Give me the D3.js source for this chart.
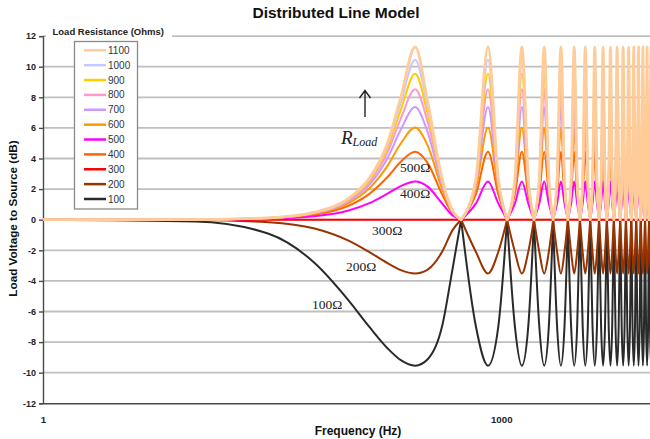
<!DOCTYPE html>
<html>
<head>
<meta charset="utf-8">
<script src="https://cdn.jsdelivr.net/npm/d3@7"></script>
<style>
  body { margin: 0; background: #fff; }
  svg { display: block; font-family: Arial, "Liberation Sans", sans-serif; }
</style>
</head>
<body>
<svg width="650" height="439"></svg>
<script>
// series names, legend order (top -> bottom)
var loads = ['1100', '1000', '900', '800', '700', '600', '500', '400', '300', '200', '100'];
var lineColors = ['#FFCC99', '#C8C8FF', '#FFCC00', '#FF99CC', '#CC99FF', '#FF9900', '#FF00FF', '#FF6600', '#FF0000', '#993300', '#2a2a2a'];

// frequencies (Hz) read along the first hump, up to the first null
var firstHz = [1, 10, 30, 60, 100, 137, 180, 220, 273, 330, 410, 480, 546];

// dB read at firstHz, one row per series (same order as loads)
var firstDb = [
  [0, 0.01, 0.12, 0.49, 1.39, 2.72, 5.02, 8.01, 11.3, 7.69, 2.67, 0.59, 0],
  [0, 0.01, 0.12, 0.48, 1.36, 2.66, 4.86, 7.64, 10.46, 7.34, 2.61, 0.58, 0],
  [0, 0.01, 0.11, 0.47, 1.33, 2.57, 4.66, 7.18, 9.54, 6.92, 2.53, 0.56, 0],
  [0, 0.01, 0.11, 0.45, 1.28, 2.46, 4.39, 6.61, 8.52, 6.39, 2.42, 0.54, 0],
  [0, 0.01, 0.11, 0.43, 1.2, 2.29, 4.02, 5.89, 7.36, 5.71, 2.26, 0.51, 0],
  [0, 0.01, 0.1, 0.39, 1.09, 2.06, 3.52, 4.98, 6.02, 4.84, 2.02, 0.47, 0],
  [0, 0.01, 0.06, 0.22, 0.6, 1.08, 1.7, 2.2, 2.5, 2.16, 1.06, 0.27, 0],
  [0, 0.01, 0.08, 0.33, 0.91, 1.69, 2.79, 3.79, 4.44, 3.7, 1.66, 0.4, 0],
  [0, 0, 0, 0, 0, 0, 0, 0, 0, 0, 0, 0, 0],
  [0, -0.02, -0.16, -0.58, -1.37, -2.12, -2.84, -3.3, -3.52, -3.26, -2.1, -0.68, 0],
  [0, -0.11, -0.92, -2.83, -5.27, -7.01, -8.4, -9.18, -9.54, -9.12, -6.97, -3.21, 0]
];

// after the first null: null, shoulder, peak, shoulder, null, ... (Hz)
var rippleHz = [546, 683, 819, 956, 1092, 1229, 1365, 1502, 1638, 1775, 1911, 2048,
  2184, 2321, 2457, 2594, 2730, 2867, 3003, 3140, 3276, 3413, 3549, 3686,
  3822, 3959, 4095, 4232, 4368, 4505, 4641, 4778, 4914, 5051, 5187, 5324,
  5460, 5597, 5733, 5870, 6006, 6143, 6279, 6416, 6552, 6689, 6825, 6962,
  7098, 7235, 7371, 7508, 7644, 7781, 7917, 8054, 8190, 8327, 8463, 8600,
  8736, 8873, 9009, 9146, 9282, 9419, 9555, 9692, 9828, 9965, 10101, 10238, 10374];

// level of each series at the shoulders and at the peaks/dips of the ripples (dB)
var shoulderDb = [2.7, 2.64, 2.55, 2.44, 2.28, 2.04, 1.07, 1.67, 0, -2.11, -7.0];
var peakDb = [11.3, 10.46, 9.54, 8.52, 7.36, 6.02, 2.5, 4.44, 0, -3.52, -9.54];

var yTicks = [12, 10, 8, 6, 4, 2, 0, -2, -4, -6, -8, -10, -12];
var xTicks = [1, 1000];

// curve labels drawn on the plot
var curveLabels = ['500\u03A9', '400\u03A9', '300\u03A9', '200\u03A9', '100\u03A9'];
var labelAt = [[400, 171.5], [400, 198], [372, 235], [346, 270.5], [312, 308.5]];

var svg = d3.select('svg'),
    w = +svg.attr('width'),
    h = +svg.attr('height');

var x = d3.scaleLog().domain([1, 10000]).range([43, 654]),
    y = d3.scaleLinear().domain([-12, 12]).range([403.3, 36.1]);

svg.append('defs').append('clipPath').attr('id', 'plot')
  .append('rect').attr('x', 43).attr('y', 0).attr('width', 620).attr('height', h);

// gridlines
svg.append('g').selectAll('line')
  .data(yTicks.filter(function(d){ return d > -12; }))
  .enter().append('line')
  .attr('x1', x(1)).attr('x2', w)
  .attr('y1', function(d){ return y(d); })
  .attr('y2', function(d){ return y(d); })
  .attr('stroke', '#bfbfbf')
  .attr('stroke-width', 1.8);

// axes
var yAxis = svg.append('g')
  .attr('transform', 'translate(' + x(1) + ',0)')
  .call(d3.axisLeft(y).tickValues(yTicks).tickSize(4).tickPadding(3)
    .tickFormat(function(d){ return String(d); }));
yAxis.selectAll('path, line').attr('stroke', '#4a4a4a').attr('stroke-width', 1.4);
yAxis.selectAll('text').attr('font-size', 9).attr('font-weight', 'bold')
  .attr('font-family', 'Arial, "Liberation Sans", sans-serif').attr('fill', '#222');

var xAxis = svg.append('g')
  .attr('transform', 'translate(0,' + y(-12) + ')')
  .call(d3.axisBottom(x).tickValues(xTicks).tickSize(0).tickPadding(13)
    .tickFormat(d3.format('d')));
xAxis.select('path').attr('stroke', '#4a4a4a').attr('stroke-width', 1.4);
xAxis.selectAll('text').attr('font-size', 9.7).attr('font-weight', 'bold')
  .attr('font-family', 'Arial, "Liberation Sans", sans-serif').attr('fill', '#222');

// curves
var line = d3.line()
  .x(function(d){ return x(d[0]); })
  .y(function(d){ return y(d[1]); })
  .curve(d3.curveMonotoneX);

function seriesPath(i) {
  var segs = [firstHz.map(function(f, j){ return [f, firstDb[i][j]]; })];
  var levels = [0, shoulderDb[i], peakDb[i], shoulderDb[i]];
  for (var k = 0; k + 4 < rippleHz.length; k += 4) {
    segs.push(rippleHz.slice(k, k + 5).map(function(f, j){ return [f, levels[j % 4]]; }));
  }
  return segs.map(line).join('');
}

var order = d3.range(loads.length).reverse();
svg.append('g').attr('clip-path', 'url(#plot)')
  .selectAll('path')
  .data(order)
  .enter().append('path')
  .attr('d', seriesPath)
  .attr('fill', 'none')
  .attr('stroke', function(i){ return lineColors[i]; })
  .attr('stroke-width', function(i){ return i === 0 ? 2.8 : 2; })
  .attr('stroke-linejoin', 'round')
  .attr('stroke-linecap', 'round');

// annotations
var notes = svg.append('g').attr('font-family', '"Liberation Serif", "Times New Roman", serif').attr('fill', '#222');
notes.selectAll('text.lab')
  .data(curveLabels)
  .enter().append('text')
  .attr('class', 'lab')
  .attr('x', function(d, i){ return labelAt[i][0]; })
  .attr('y', function(d, i){ return labelAt[i][1]; })
  .attr('font-size', 13.5)
  .text(function(d){ return d; });

notes.append('path')
  .attr('d', 'M365,117 L365,90.5 M359.5,98 L365,90.5 L370.5,98')
  .attr('fill', 'none').attr('stroke', '#222').attr('stroke-width', 1.4);

var rl = notes.append('text').attr('x', 341).attr('y', 143.5)
  .attr('font-style', 'italic').attr('font-size', 19);
rl.append('tspan').text('R');
rl.append('tspan').attr('font-size', 12).attr('dy', 2.5).text('Load');

// legend
var leg = svg.append('g');
leg.append('rect').attr('x', 46).attr('y', 26).attr('width', 126).attr('height', 13).attr('fill', '#fff');
leg.append('text').attr('x', 52.5).attr('y', 34.8)
  .attr('font-size', 9.5).attr('font-weight', 'bold').attr('fill', '#222')
  .text('Load Resistance (Ohms)');
leg.append('rect').attr('x', 74.5).attr('y', 41.5).attr('width', 63).attr('height', 167.5)
  .attr('fill', '#fff').attr('stroke', '#8a8a8a').attr('stroke-width', 1.3);

var rows = leg.selectAll('g.row')
  .data(loads)
  .enter().append('g')
  .attr('class', 'row')
  .attr('transform', function(d, i){ return 'translate(0,' + (50.3 + i * 14.87) + ')'; });
rows.append('line')
  .attr('x1', 84).attr('x2', 106)
  .attr('stroke', function(d, i){ return lineColors[i]; })
  .attr('stroke-width', 2.5);
rows.append('text')
  .attr('x', 108).attr('dy', '0.35em')
  .attr('font-size', 10).attr('fill', '#333')
  .text(function(d){ return d; });

// titles
svg.append('text').attr('x', 336).attr('y', 18)
  .attr('text-anchor', 'middle').attr('font-size', 15.5).attr('font-weight', 'bold').attr('fill', '#111')
  .text('Distributed Line Model');
svg.append('text').attr('x', 358).attr('y', 434.5)
  .attr('text-anchor', 'middle').attr('font-size', 12).attr('font-weight', 'bold').attr('fill', '#111')
  .text('Frequency (Hz)');
svg.append('text').attr('transform', 'translate(16.5,218.5) rotate(-90)')
  .attr('text-anchor', 'middle').attr('font-size', 11.7).attr('font-weight', 'bold').attr('fill', '#111')
  .text('Load Voltage to Source (dB)');
</script>
</body>
</html>
